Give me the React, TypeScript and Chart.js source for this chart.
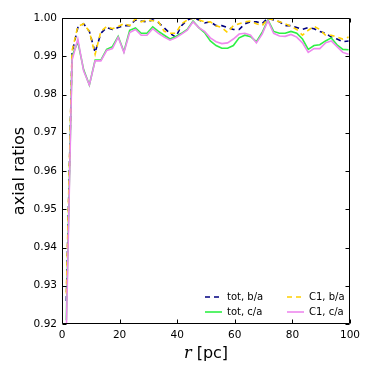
import React, { useEffect, useRef } from 'react';
import { Chart, registerables } from 'chart.js';

Chart.register(...registerables);

const radii = [
  1.5, 3.5, 5.5, 7.5, 9.5, 11.5, 13.5, 15.5, 17.5, 19.5,
  21.5, 23.5, 25.5, 27.5, 29.5, 31.5, 33.5, 35.5, 37.5, 39.5,
  41.5, 43.5, 45.5, 47.5, 49.5, 51.5, 53.5, 55.5, 57.5, 59.5,
  61.5, 63.5, 65.5, 67.5, 69.5, 71.5, 73.5, 75.5, 77.5, 79.5,
  81.5, 83.5, 85.5, 87.5, 89.5, 91.5, 93.5, 95.5, 97.5, 99.5,
];

const totBA = [
  0.926, 0.991, 0.9975, 0.9985, 0.9965, 0.991, 0.996, 0.9975, 0.997, 0.9975,
  0.998, 0.998, 0.9995, 0.9992, 0.999, 0.9995, 0.9988, 0.9974, 0.996, 0.995,
  0.998, 0.9995, 1.0, 0.9995, 0.9987, 0.999, 0.998, 0.998, 0.9975, 0.997,
  0.997, 0.9985, 0.999, 0.999, 0.9985, 1.0, 0.9995, 0.999, 0.998, 0.998,
  0.9975, 0.997, 0.9975, 0.9972, 0.9965, 0.996, 0.995, 0.9945, 0.9938, 0.994,
];

const totCA = [
  0.921, 0.99, 0.9938, 0.9865, 0.9825, 0.989, 0.989, 0.9918, 0.9925, 0.9952,
  0.9912, 0.9968, 0.9974, 0.996, 0.996, 0.9977, 0.9965, 0.9955, 0.9945, 0.9952,
  0.996, 0.997, 0.9992, 0.9975, 0.9962, 0.994, 0.9928, 0.9921, 0.9921, 0.9928,
  0.9948, 0.9955, 0.9951, 0.9938, 0.9962, 0.9995, 0.9965, 0.996, 0.996, 0.9965,
  0.996, 0.9945, 0.9918, 0.9928, 0.993, 0.994, 0.9948, 0.993, 0.9918, 0.9917,
];

const c1BA = [
  0.928, 0.9915, 0.9978, 0.9985, 0.9965, 0.9905, 0.9965, 0.9978, 0.9972, 0.9978,
  0.9985, 0.998, 0.9998, 0.999, 0.9995, 0.9993, 0.999, 0.9965, 0.996, 0.996,
  0.9985, 0.9995, 1.0, 0.9995, 0.999, 0.999, 0.998, 0.9975, 0.9962, 0.998,
  0.9985, 0.999, 0.9992, 0.9985, 0.998, 0.9998, 0.9995, 0.999, 0.9985, 0.9978,
  0.997, 0.9955, 0.9968, 0.9978, 0.997, 0.9955, 0.9955, 0.995, 0.9945, 0.995,
];

const c1CA = [
  0.918, 0.989, 0.9945, 0.9862, 0.9825, 0.9888, 0.9888, 0.9915, 0.992, 0.995,
  0.991, 0.9962, 0.997, 0.9955, 0.9955, 0.9972, 0.996, 0.995, 0.9942, 0.9948,
  0.9958, 0.9968, 0.999, 0.9975, 0.9965, 0.9948, 0.9938, 0.9933, 0.9935, 0.9945,
  0.9958, 0.996, 0.9955, 0.9935, 0.9958, 0.9993, 0.996, 0.9953, 0.9952, 0.9957,
  0.995, 0.9935, 0.991, 0.992, 0.992, 0.9935, 0.994, 0.9925, 0.991, 0.9905,
];

const xTicks = [0, 20, 40, 60, 80, 100];
const yTicks = [0.92, 0.93, 0.94, 0.95, 0.96, 0.97, 0.98, 0.99, 1.0];
const seriesLabels = ['tot, b/a', 'tot, c/a', 'C1, b/a', 'C1, c/a'];

const FONT = 'DejaVu Sans';

const framePlugin = {
  id: 'frameLegend',
  afterDraw(chart: any) {
    const { ctx, chartArea, scales } = chart;
    const { left, right, top, bottom } = chartArea;
    const xs = scales.x;
    const ys = scales.y;
    ctx.save();
    ctx.strokeStyle = '#000';
    ctx.lineWidth = 1;
    const L = Math.round(left) + 0.5;
    const R = Math.round(right) - 0.5;
    const T = Math.round(top) + 0.5;
    const B = Math.round(bottom) - 0.5;
    ctx.beginPath();
    ctx.rect(L, T, R - L, B - T);
    ctx.stroke();
    const tl = 4;
    ctx.beginPath();
    xTicks.forEach((v) => {
      const px = Math.round(xs.getPixelForValue(v)) + 0.5;
      ctx.moveTo(px, B);
      ctx.lineTo(px, B - tl);
      ctx.moveTo(px, T);
      ctx.lineTo(px, T + tl);
    });
    yTicks.forEach((v) => {
      const py = Math.round(ys.getPixelForValue(v)) + 0.5;
      ctx.moveTo(L, py);
      ctx.lineTo(L + tl, py);
      ctx.moveTo(R, py);
      ctx.lineTo(R - tl, py);
    });
    ctx.stroke();

    // legend
    const ds = chart.data.datasets;
    const cols = [205, 287];
    const rows = [297, 312];
    const place = [
      [0, 0],
      [0, 1],
      [1, 0],
      [1, 1],
    ];
    ctx.font = `10px '${FONT}'`;
    ctx.textBaseline = 'middle';
    ctx.textAlign = 'left';
    ds.forEach((d: any, i: number) => {
      const [c, r] = place[i];
      const x0 = cols[c];
      const y0 = rows[r];
      ctx.beginPath();
      ctx.strokeStyle = d.borderColor;
      ctx.lineWidth = d.borderWidth;
      ctx.setLineDash(d.borderDash || []);
      ctx.moveTo(x0, y0);
      ctx.lineTo(x0 + 17, y0);
      ctx.stroke();
      ctx.setLineDash([]);
      ctx.fillStyle = '#000';
      ctx.fillText(d.label, x0 + 22, y0);
    });

    // x title with italic r
    const cx = (left + right) / 2;
    const ty = 354;
    const f1 = `italic 16px 'DejaVu Serif'`;
    const f2 = `16px '${FONT}'`;
    ctx.font = f1;
    const w1 = ctx.measureText('r').width;
    ctx.font = f2;
    const w2 = ctx.measureText(' [pc]').width;
    const sx = cx - (w1 + w2) / 2;
    ctx.fillStyle = '#000';
    ctx.font = f1;
    ctx.fillText('r', sx, ty);
    ctx.font = f2;
    ctx.fillText(' [pc]', sx + w1, ty);
    ctx.restore();
  },
};

function pts(vals: number[]) {
  return radii.map((r, i) => ({ x: r, y: vals[i] }));
}

export default function App() {
  const ref = useRef<HTMLCanvasElement | null>(null);
  useEffect(() => {
    document.body.style.margin = '0';
    const canvas = ref.current;
    if (!canvas) return;
    const chart = new Chart(canvas, {
      type: 'line',
      data: {
        datasets: [
          {
            label: seriesLabels[0],
            data: pts(totBA),
            borderColor: '#000080',
            borderWidth: 1.6,
            borderDash: [5, 4],
            pointRadius: 0,
            order: 4,
          },
          {
            label: seriesLabels[1],
            data: pts(totCA),
            borderColor: '#2ef044',
            borderWidth: 1.6,
            pointRadius: 0,
            order: 3,
          },
          {
            label: seriesLabels[2],
            data: pts(c1BA),
            borderColor: '#ffd000',
            borderWidth: 1.6,
            borderDash: [5, 4],
            pointRadius: 0,
            order: 2,
          },
          {
            label: seriesLabels[3],
            data: pts(c1CA),
            borderColor: '#ee88ee',
            borderWidth: 1.6,
            pointRadius: 0,
            order: 1,
          },
        ],
      },
      options: {
        animation: false,
        responsive: false,
        devicePixelRatio: 1,
        layout: { padding: { left: 0, right: 24, top: 18, bottom: 0 } },
        plugins: {
          legend: { display: false },
          tooltip: { enabled: false },
        },
        scales: {
          x: {
            type: 'linear',
            min: 0,
            max: 100,
            grid: { display: false, drawTicks: false },
            border: { display: false },
            afterBuildTicks: (s: any) => {
              s.ticks = xTicks.map((v) => ({ value: v }));
            },
            afterFit: (s: any) => {
              s.height = 50;
            },
            ticks: {
              color: '#000',
              font: { family: FONT, size: 10.5 },
              padding: 5,
              maxRotation: 0,
              callback: (v: any) => String(v),
            },
          },
          y: {
            type: 'linear',
            min: 0.92,
            max: 1.0,
            grid: { display: false, drawTicks: false },
            border: { display: false },
            afterBuildTicks: (s: any) => {
              s.ticks = yTicks.map((v) => ({ value: v }));
            },
            afterFit: (s: any) => {
              s.width = 62;
            },
            ticks: {
              color: '#000',
              font: { family: FONT, size: 10.5 },
              padding: 5,
              callback: (v: any) => Number(v).toFixed(2),
            },
            title: {
              display: true,
              text: 'axial ratios',
              color: '#000',
              font: { family: FONT, size: 16 },
              padding: { top: 10, bottom: 0 },
            },
          },
        },
      },
      plugins: [framePlugin],
    } as any);
    return () => chart.destroy();
  }, []);
  return (
    <div style={{ width: 374, height: 374, background: '#fff' }}>
      <canvas ref={ref} width={374} height={374} style={{ width: 374, height: 374, display: 'block' }} />
    </div>
  );
}
